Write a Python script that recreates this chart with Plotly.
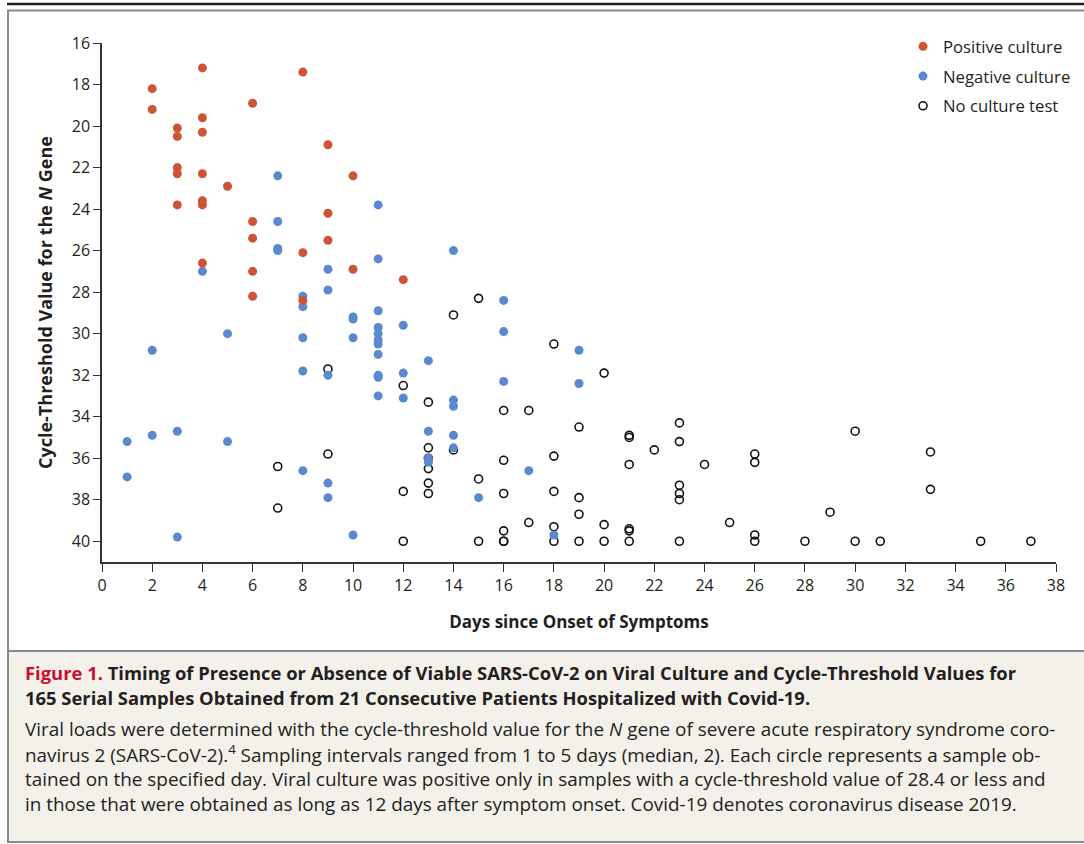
import plotly.graph_objects as go

# ---------------- data ----------------
pos_day = [2, 2, 3, 3, 3, 3, 3, 4, 4, 4, 4, 4, 4, 4, 5, 6, 6, 6, 6, 6, 8, 8, 8, 9, 9, 9, 10, 10, 12]
pos_ct = [18.2, 19.2, 20.1, 20.5, 22.0, 22.3, 23.8, 17.2, 19.6, 20.3, 22.3, 23.6, 23.8, 26.6, 22.9,
          18.9, 24.6, 25.4, 27.0, 28.2, 17.4, 26.1, 28.4, 20.9, 24.2, 25.5, 22.4, 26.9, 27.4]

neg_day = [1, 1, 2, 2, 3, 3, 4, 5, 5, 7, 7, 7, 7, 8, 8, 8, 8, 8, 9, 9, 9, 9, 9, 10, 10, 10, 10,
           11, 11, 11, 11, 11, 11, 11, 11, 11, 11, 11, 12, 12, 12, 13, 13, 13, 13,
           14, 14, 14, 14, 14, 15, 16, 16, 16, 17, 18, 19, 19]
neg_ct = [35.2, 36.9, 30.8, 34.9, 34.7, 39.8, 27.0, 30.0, 35.2, 22.4, 24.6, 25.9, 26.0,
          28.2, 28.7, 30.2, 31.8, 36.6, 26.9, 27.9, 32.0, 37.2, 37.9, 29.2, 29.3, 30.2, 39.7,
          23.8, 26.4, 28.9, 29.7, 30.0, 30.3, 30.5, 31.0, 32.0, 32.1, 33.0, 29.6, 31.9, 33.1,
          31.3, 34.7, 36.0, 36.2, 26.0, 33.2, 33.5, 34.9, 35.5, 37.9, 28.4, 29.9, 32.3, 36.6,
          39.7, 30.8, 32.4]

none_day = [7, 7, 9, 9, 12, 12, 12, 13, 13, 13, 13, 13, 13, 14, 14, 15, 15, 15,
            16, 16, 16, 16, 16, 16, 17, 17, 18, 18, 18, 18, 18, 19, 19, 19, 19,
            20, 20, 20, 21, 21, 21, 21, 21, 21, 22, 23, 23, 23, 23, 23, 23, 24, 25,
            26, 26, 26, 26, 28, 29, 30, 30, 31, 33, 33, 35, 37]
none_ct = [36.4, 38.4, 31.7, 35.8, 32.5, 37.6, 40.0, 33.3, 35.5, 36.0, 36.5, 37.2, 37.7,
           29.1, 35.6, 28.3, 37.0, 40.0, 33.7, 36.1, 37.7, 39.5, 40.0, 40.0, 33.7, 39.1,
           30.5, 35.9, 37.6, 39.3, 40.0, 34.5, 37.9, 38.7, 40.0, 31.9, 39.2, 40.0,
           34.9, 35.0, 36.3, 39.4, 39.5, 40.0, 35.6, 34.3, 35.2, 37.3, 37.7, 38.0, 40.0,
           36.3, 39.1, 35.8, 36.2, 39.7, 40.0, 40.0, 38.6, 34.7, 40.0, 40.0, 35.7, 37.5,
           40.0, 40.0]

x_ticks = list(range(0, 39, 2))
y_ticks = list(range(16, 41, 2))

caption_title = [
    "<span style='color:#c8102e'>Figure 1.</span> Timing of Presence or Absence of Viable SARS-CoV-2 on Viral Culture and Cycle-Threshold Values for",
    "165 Serial Samples Obtained from 21 Consecutive Patients Hospitalized with Covid-19.",
]
caption_body = [
    "Viral loads were determined with the cycle-threshold value for the <i>N</i> gene of severe acute respiratory syndrome coro-",
    "navirus 2 (SARS-CoV-2).<sup>4</sup> Sampling intervals ranged from 1 to 5 days (median, 2). Each circle represents a sample ob-",
    "tained on the specified day. Viral culture was positive only in samples with a cycle-threshold value of 28.4 or less and",
    "in those that were obtained as long as 12 days after symptom onset. Covid-19 denotes coronavirus disease 2019.",
]

# ---------------- layout constants ----------------
W, H = 1084, 844
ML, MR, MT, MB = 102, 28, 43, 282
PW, PH = W - ML - MR, H - MT - MB
FONT = "Open Sans"
RED = "#cf5436"
BLUE = "#5b89cf"
TXT = "#231f20"


def xp(px):
    return (px - ML) / PW


def yp(py):
    return (H - MB - py) / PH


fig = go.Figure()
fig.add_trace(go.Scatter(
    x=none_day, y=none_ct, mode="markers", name="No culture test", legendrank=3,
    legendgroup="c",
    marker=dict(symbol="circle-open", size=8, color="#111111", line=dict(width=1.6)),
    cliponaxis=False))
fig.add_trace(go.Scatter(
    x=neg_day, y=neg_ct, mode="markers", name="Negative culture", legendrank=2,
    legendgroup="b",
    marker=dict(symbol="circle", size=9, color=BLUE), cliponaxis=False))
fig.add_trace(go.Scatter(
    x=pos_day, y=pos_ct, mode="markers", name="Positive culture", legendrank=1,
    legendgroup="a",
    marker=dict(symbol="circle", size=9, color=RED), cliponaxis=False))

shapes = [
    # top rule
    dict(type="line", xref="paper", yref="paper", x0=xp(7), x1=xp(1090), y0=yp(4), y1=yp(4),
         line=dict(color="#222222", width=2.5), layer="below"),
    # caption background
    dict(type="rect", xref="paper", yref="paper", x0=xp(8), x1=xp(1090), y0=yp(651), y1=yp(842),
         fillcolor="#f4f1eb", line=dict(width=0), layer="below"),
    # outer box
    dict(type="rect", xref="paper", yref="paper", x0=xp(8), x1=xp(1090), y0=yp(10.5), y1=yp(842),
         line=dict(color="#8a8a8a", width=2), layer="below"),
    # separator
    dict(type="line", xref="paper", yref="paper", x0=xp(8), x1=xp(1090), y0=yp(651), y1=yp(651),
         line=dict(color="#8a8a8a", width=2), layer="below"),
]

annotations = []
for i, t in enumerate(caption_title):
    annotations.append(dict(
        text=t, xref="paper", yref="paper", x=xp(23), y=yp(672 + 25 * i),
        xanchor="left", yanchor="middle", showarrow=False, align="left",
        font=dict(family=FONT, size=18.4, color=TXT, weight="bold")))
for i, t in enumerate(caption_body):
    annotations.append(dict(
        text=t, xref="paper", yref="paper", x=xp(23), y=yp(729 + 25 * i),
        xanchor="left", yanchor="middle", showarrow=False, align="left",
        font=dict(family=FONT, size=18.9, color=TXT)))

fig.update_layout(
    width=W, height=H,
    margin=dict(l=ML, r=MR, t=MT, b=MB, autoexpand=False),
    paper_bgcolor="white", plot_bgcolor="white",
    font=dict(family=FONT, size=16, color=TXT),
    shapes=shapes, annotations=annotations,
    showlegend=True,
    legend=dict(x=xp(903), y=yp(29), xanchor="left", yanchor="top",
                bgcolor="rgba(0,0,0,0)", font=dict(family=FONT, size=16.7, color=TXT),
                itemwidth=30, tracegroupgap=5),
    xaxis=dict(range=[0, 38], tickvals=x_ticks, ticks="outside", ticklen=8, tickwidth=1.2,
               tickcolor="#333", showline=True, linecolor="#333", linewidth=1.5,
               showgrid=False, zeroline=False, tickfont=dict(size=16, color=TXT),
               title=dict(text="Days since Onset of Symptoms", standoff=21,
                          font=dict(size=17, color=TXT, weight="bold"))),
    yaxis=dict(range=[41, 16], tickvals=y_ticks, ticks="outside", ticklen=7, tickwidth=1.2,
               tickcolor="#333", showline=True, linecolor="#333", linewidth=1.5,
               showgrid=False, zeroline=False, tickfont=dict(size=16, color=TXT),
               title=dict(text="Cycle-Threshold Value for the <i>N</i> Gene", standoff=14,
                          font=dict(size=18, color=TXT, weight="bold"))),
)

fig.write_html("out.html", config={"displayModeBar": False},
               post_script="document.body.style.margin='0';")
